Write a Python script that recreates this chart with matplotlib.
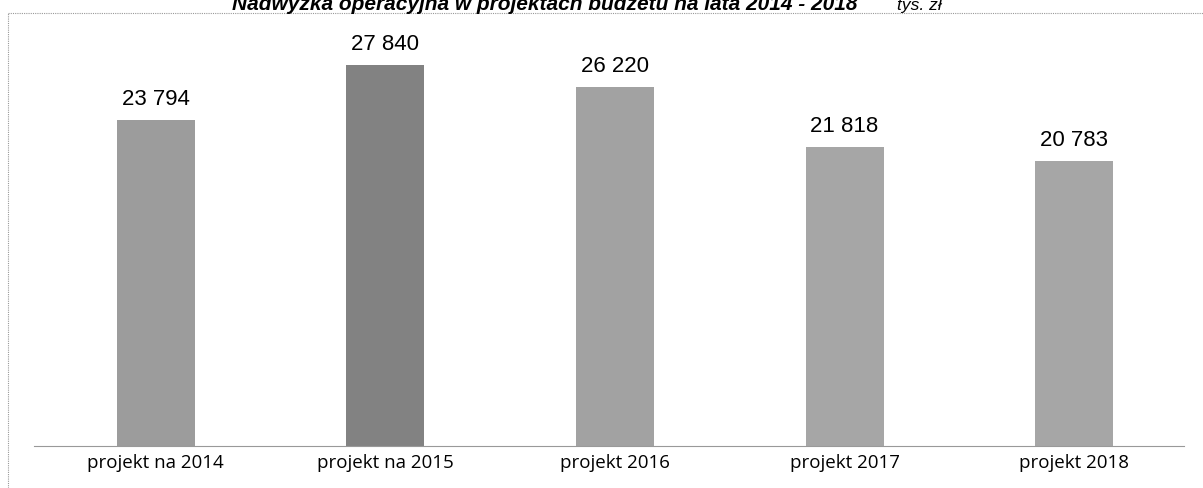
import matplotlib.pyplot as plt
from matplotlib.lines import Line2D

categories = ["projekt na 2014", "projekt na 2015", "projekt 2016", "projekt 2017", "projekt 2018"]
values = [23794, 27840, 26220, 21818, 20783]
bar_colors = ["#9c9c9c", "#828282", "#a2a2a2", "#a6a6a6", "#a6a6a6"]

title = "Nadwyżka operacyjna w projektach budżetu na lata 2014 - 2018"
unit = "tys. zł"

fig = plt.figure(figsize=(12.03, 4.89), dpi=100)
W, H = 1203, 489

# axes: baseline at y=447px, categories spaced ~229.5px starting at center 156px
ax = fig.add_axes([41 / W, (H - 447) / H, (1189 - 41) / W, (447 - 36) / H])
x = range(len(categories))
bars = ax.bar(x, values, width=0.34, color=bar_colors, edgecolor="none")
ax.set_xlim(-0.5, len(categories) - 0.5)
ax.set_ylim(0, 30000)

for b, v in zip(bars, values):
    ax.text(b.get_x() + b.get_width() / 2, v + 800, f"{v:,}".replace(",", " "),
            ha="center", va="bottom", fontsize=16, family="Liberation Sans")

ax.set_xticks(list(x))
ax.set_xticklabels(categories, fontsize=13.5, family="Open Sans")
ax.tick_params(axis="x", length=0, pad=5)
ax.set_yticks([])
for s in ["top", "left", "right"]:
    ax.spines[s].set_visible(False)
ax.spines["bottom"].set_linestyle((0, (1, 1)))
ax.spines["bottom"].set_color("#999999")
ax.spines["bottom"].set_linewidth(0.8)
ax.spines["bottom"].set_bounds(-0.53, 4.48)

# dotted frame (top and left edge) around the chart area
frame = dict(transform=fig.transFigure, linestyle=(0, (1, 1)), color="#999999", linewidth=0.8)
fig.lines.append(Line2D([8 / W, 1], [(H - 14) / H] * 2, **frame))
fig.lines.append(Line2D([8 / W] * 2, [0, (H - 14) / H], **frame))

# title, top half cut off as in the scan
fig.text(545 / W, (H - 10) / H, title, ha="center", va="baseline",
         fontsize=15, fontweight="bold", style="italic", family="Liberation Sans")
fig.text(919 / W, (H - 10) / H, unit, ha="center", va="baseline",
         fontsize=12.5, style="italic", family="Liberation Sans")

fig.savefig("out.png", dpi=100)
